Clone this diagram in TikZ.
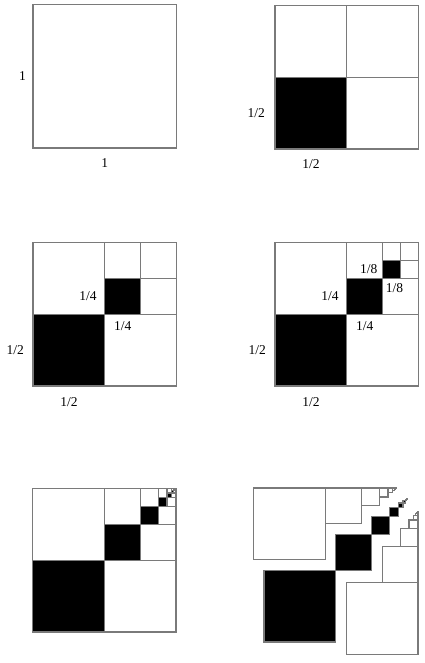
\documentclass[tikz,border=0pt]{standalone}
\usepackage{fontspec}
\setmainfont{Liberation Serif}
\usepackage{tikz}
\usetikzlibrary{positioning}
\definecolor{gridline}{HTML}{7A7A7A}

\newcommand{\sqside}{143.5}

\tikzset{
  cell/.style={draw=gridline, line width=1.1pt},
  frame/.style={draw=gridline, line width=1.1pt, inner sep=0pt, outer sep=0pt, anchor=south west},
  blacksq/.style={fill=black, draw=gridline, line width=1.1pt, inner sep=0pt, outer sep=0pt, anchor=south west},
  lbl/.style={font=\fontsize{13.5}{15}\selectfont, inner sep=0pt},
}

\begin{document}
\begin{tikzpicture}[x=1pt, y=1pt]
  \useasboundingbox (0,0) rectangle (425,663);

  % unit square
  \node[frame, minimum size=\sqside pt] (a0) at (33,515) {};
  \node[lbl, left=7pt of a0] (a0l) {1};
  \node[lbl, below=10pt of a0] (a0b) {1};

  % first step
  \node[frame, minimum size=\sqside pt] (b) at (275,514) {};
  \node[blacksq, minimum size=\sqside/2 pt] (b0) at (275,514) {};
  \draw[cell] (b.north) -- (b.south) (b.west) -- (b.east);
  \node[lbl, left=10pt of b0] (b0l) {1/2};
  \node[lbl, below=10pt of b0] (b0b) {1/2};

  % two steps
  \begin{scope}[shift={(33,277)}]
    \draw[cell] (0,0) rectangle (\sqside,\sqside);
    \foreach \k in {0,1} {
      \pgfmathsetmacro{\h}{\sqside/2^(\k+1)}
      \pgfmathsetmacro{\a}{\sqside-2*\h}
      \node[blacksq, minimum size=\h pt] (c\k) at (\a,\a) {};
      \draw[cell] (\a+\h,\a) -- (\a+\h,\sqside) (\a,\a+\h) -- (\sqside,\a+\h);
    }
  \end{scope}
  \node[lbl, left=9pt of c0] (c0l) {1/2};
  \node[lbl, below=11pt of c0] (c0b) {1/2};
  \node[lbl, left=8pt of c1] (c1l) {1/4};
  \node[lbl, below=7pt of c1] (c1b) {1/4};

  % three steps
  \begin{scope}[shift={(275,277)}]
    \draw[cell] (0,0) rectangle (\sqside,\sqside);
    \foreach \k in {0,1,2} {
      \pgfmathsetmacro{\h}{\sqside/2^(\k+1)}
      \pgfmathsetmacro{\a}{\sqside-2*\h}
      \node[blacksq, minimum size=\h pt] (d\k) at (\a,\a) {};
      \draw[cell] (\a+\h,\a) -- (\a+\h,\sqside) (\a,\a+\h) -- (\sqside,\a+\h);
    }
  \end{scope}
  \node[lbl, left=9pt of d0] (d0l) {1/2};
  \node[lbl, below=11pt of d0] (d0b) {1/2};
  \node[lbl, left=8pt of d1] (d1l) {1/4};
  \node[lbl, below=7pt of d1] (d1b) {1/4};
  \node[lbl, left=5pt of d2] (d2l) {1/8};
  \node[lbl, below=5pt of d2, xshift=3pt] (d2b) {1/8};

  % limit
  \begin{scope}[shift={(32.5,31)}]
    \draw[cell] (0,0) rectangle (\sqside,\sqside);
    \foreach \k in {0,...,7} {
      \pgfmathsetmacro{\h}{\sqside/2^(\k+1)}
      \pgfmathsetmacro{\a}{\sqside-2*\h}
      \node[blacksq, minimum size=\h pt] (e\k) at (\a,\a) {};
      \draw[cell] (\a+\h,\a) -- (\a+\h,\sqside) (\a,\a+\h) -- (\sqside,\a+\h);
    }
  \end{scope}

  % limit, pulled apart
  \begin{scope}[shift={(264,21)}]
    \foreach \k in {0,...,8} {
      \pgfmathsetmacro{\h}{\sqside/2^(\k+1)}
      \pgfmathsetmacro{\a}{\sqside-2*\h}
      \node[blacksq, minimum size=\h pt] (f\k) at (\a,\a) {};
      \draw[cell] (\a-10.5,\a+\h+10.5) rectangle +(\h,\h);
      \draw[cell] (\a+\h+10.5,\a-12.5) rectangle +(\h,\h);
    }
  \end{scope}
\end{tikzpicture}
\end{document}
